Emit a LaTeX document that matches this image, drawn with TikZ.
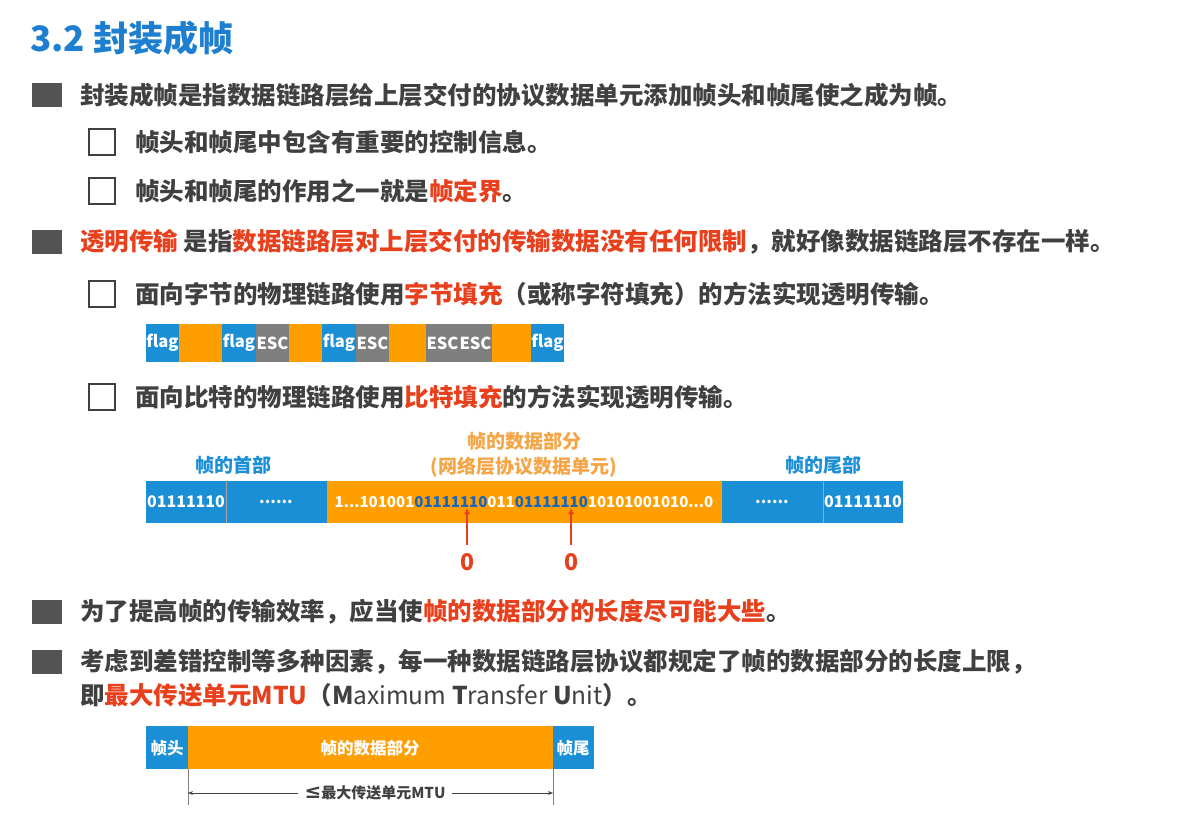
\documentclass[tikz,border=0pt]{standalone}
\usepackage{fontspec}
\setmainfont{Noto Sans CJK SC}
\newfontfamily\dv{DejaVu Sans}
\definecolor{tb}{HTML}{1E7FD0}
\definecolor{bb}{HTML}{1A8FD6}
\definecolor{bbt}{HTML}{1565C0}
\definecolor{og}{HTML}{FF9E00}
\definecolor{gy}{HTML}{7F7F7F}
\definecolor{rd}{HTML}{E8401C}
\definecolor{tx}{HTML}{404040}
\definecolor{ol}{HTML}{F5A545}
\usetikzlibrary{arrows.meta}
\begin{document}
\begin{tikzpicture}[x=1pt,y=-1pt,
  txt/.style={anchor=west,inner sep=0,text=tx,font=\fontsize{24.5}{28}\selectfont\bfseries},
  fb/.style={fill=tx!90,draw=none},
  hb/.style={draw=tx,line width=2pt},
  seg/.style={draw=none,inner sep=0,text=white,font=\fontsize{16.5}{18}\selectfont\bfseries},
  bl/.style={inner sep=0,text=bb,font=\fontsize{19}{22}\selectfont\bfseries}]
\useasboundingbox (0,0) rectangle (1204,814);
\fill[white] (0,0) rectangle (1204,814);
\node[anchor=west,inner sep=0,text=tb,font=\fontsize{35}{38}\selectfont\bfseries] (title) at (30,38) {3.2 封装成帧};
% bullets
\fill[fb] (32,83) rectangle (62,107);
\node[txt] (b1) at (80,95) {封装成帧是指数据链路层给上层交付的协议数据单元添加帧头和帧尾使之成为帧。};
\draw[hb] (89,129) rectangle (115,155);
\node[txt] (s1) at (135,142) {帧头和帧尾中包含有重要的控制信息。};
\draw[hb] (89,178) rectangle (115,204);
\node[txt] (s2) at (135,191) {帧头和帧尾的作用之一就是\textcolor{rd}{帧定界}。};
\fill[fb] (32,230) rectangle (62,254);
\node[txt] (b2) at (80,242) {\textcolor{rd}{透明传输} 是指\textcolor{rd}{数据链路层对上层交付的传输数据没有任何限制}，就好像数据链路层不存在一样。};
\draw[hb] (89,281) rectangle (115,307);
\node[txt] (s3) at (135,294) {面向字节的物理链路使用\textcolor{rd}{字节填充}（或称字符填充）的方法实现透明传输。};
% flag row
\foreach \a/\b/\c/\t [count=\i] in {146/179/bb/flag,179/222/og/,222/256/bb/flag,256/289/gy/ESC,289/322/og/,322/356/bb/flag,356/389/gy/ESC,389/426/og/,426/459/gy/ESC,459/492/gy/ESC,492/531/og/,531/564/bb/flag}{
  \fill[\c] (\a,324) rectangle (\b,362);
  \node[seg] (f\i) at ({(\a+\b)/2},343) {\t};
}
\draw[hb] (89,384) rectangle (115,410);
\node[txt] (s4) at (135,397) {面向比特的物理链路使用\textcolor{rd}{比特填充}的方法实现透明传输。};
% bit row
\node[bl] (lh) at (233,465) {帧的首部};
\node[bl,text=ol] (ld) at (524,441) {帧的数据部分};
\node[bl,text=ol] (ld2) at (524,467) {(网络层协议数据单元)};
\node[bl] (lt) at (823,465) {帧的尾部};
\fill[bb] (146,481) rectangle (327,523);
\fill[og] (327,481) rectangle (722,523);
\fill[bb] (722,481) rectangle (903,523);
\draw[gy!70] (226,481) -- (226,523) (823,481) -- (823,523);
\node[seg,font=\fontsize{16}{18}\selectfont\bfseries] (h1) at (186,502) {01111110};
\node[seg,font=\fontsize{16}{18}\selectfont\bfseries] (h2) at (276,502) {......};
\node[seg,font=\fontsize{15}{18}\selectfont\bfseries] (d) at (524,502) {1...101001\textcolor{bbt}{01111110}011\textcolor{bbt}{01111110}10101001010...0};
\node[seg,font=\fontsize{16}{18}\selectfont\bfseries] (t2) at (772,502) {......};
\node[seg,font=\fontsize{16}{18}\selectfont\bfseries] (t1) at (863,502) {01111110};
\node[inner sep=0,text=rd,font=\fontsize{23}{24}\selectfont\bfseries] (z1) at (467,562) {0};
\node[inner sep=0,text=rd,font=\fontsize{23}{24}\selectfont\bfseries] (z2) at (571,562) {0};
\coordinate (a1) at (467,508); \coordinate (a2) at (571,508);
\draw[rd,line width=2pt,-{Latex[length=6pt,width=6pt]}] (z1.north) ++(0,-8) -- (a1);
\draw[rd,line width=2pt,-{Latex[length=6pt,width=6pt]}] (z2.north) ++(0,-8) -- (a2);
% bullets 3,4
\fill[fb] (32,600) rectangle (62,624);
\node[txt] (b3) at (80,612) {为了提高帧的传输效率，应当使\textcolor{rd}{帧的数据部分的长度尽可能大些}。};
\fill[fb] (32,650) rectangle (62,674);
\node[txt] (b4) at (80,662) {考虑到差错控制等多种因素，每一种数据链路层协议都规定了帧的数据部分的长度上限，};
\node[txt] (b4b) at (80,695) {即\textcolor{rd}{最大传送单元MTU}（M\mdseries aximum \bfseries T\mdseries ransfer \bfseries U\mdseries nit\bfseries）。};
% MTU row
\fill[bb] (146,726) rectangle (188,769);
\fill[og] (188,726) rectangle (553,769);
\fill[bb] (553,726) rectangle (594,769);
\node[seg] (m1) at (167,748) {帧头};
\node[seg] (m2) at (370,748) {帧的数据部分};
\node[seg] (m3) at (573,748) {帧尾};
\coordinate (vl) at (188,805); \coordinate (vr) at (553,805);
\draw[gy] (188,769) -- (vl) (553,769) -- (vr);
\node[inner sep=6pt,fill=white,text=tx,font=\fontsize{15}{16}\selectfont\bfseries] (mtu) at (375,793) {{\dv\fontsize{20}{20}\selectfont ≤}最大传送单元MTU};
\draw[tx,-{Stealth[length=5pt]}] (mtu.west) -- (188,793);
\draw[tx,-{Stealth[length=5pt]}] (mtu.east) -- (553,793);
\end{tikzpicture}
\end{document}
